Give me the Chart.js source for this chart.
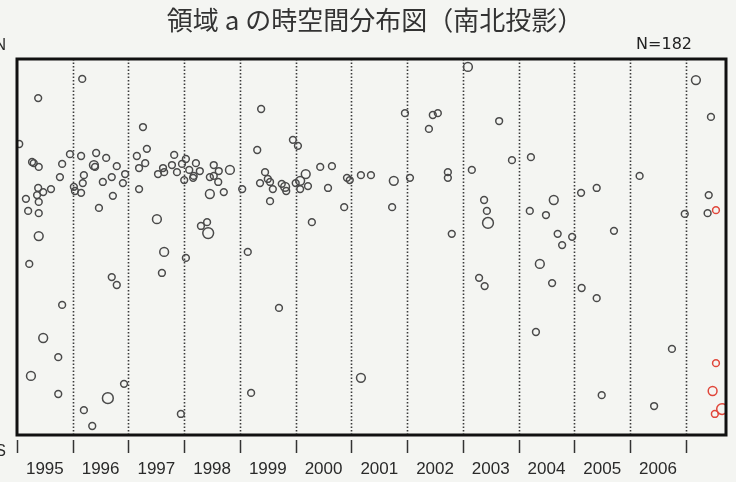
<!DOCTYPE html>
<html>
<head>
<meta charset="utf-8">
<script src="https://cdn.jsdelivr.net/npm/chart.js@4/dist/chart.umd.min.js"></script>
<style>
  body { margin: 0; background: #f4f5f2; }
  #wrap { width: 736px; height: 482px; }
</style>
</head>
<body>
<div id="wrap"><canvas id="stChart" width="736" height="482"></canvas></div>
<script>
// Title / labels
const chartTitle = '領域 a の時空間分布図（南北投影）';
const countLabel = 'N=182';
const yearLabels = ['1995', '1996', '1997', '1998', '1999', '2000', '2001', '2002', '2003', '2004', '2005', '2006'];
const yearBounds = [1995, 1996, 1997, 1998, 1999, 2000, 2001, 2002, 2003, 2004, 2005, 2006, 2007];

// Events up to 2007 (time in decimal years, south-north position 0 = S, 100 = N, size class 1-3)
const eventYears = [
  1995.04, 1995.38, 1995.27, 1995.30, 1995.39, 1995.81, 1995.95, 1995.77, 1995.61, 1995.38,
  1995.47, 1995.36, 1995.16, 1995.39, 1995.20, 1995.39, 1995.39, 1995.22, 1995.81, 1995.47,
  1995.74, 1995.25, 1995.74,
  1996.17, 1996.15, 1996.42, 1996.60, 1996.79, 1996.94, 1996.38, 1996.40, 1996.20, 1996.18,
  1996.54, 1996.70, 1996.90, 1996.02, 1996.04, 1996.15, 1996.72, 1996.47, 1996.70, 1996.79,
  1996.20, 1996.35, 1996.63, 1996.92,
  1997.26, 1997.33, 1997.15, 1997.30, 1997.19, 1997.19, 1997.53, 1997.64, 1997.62, 1997.82,
  1997.78, 1997.87, 1997.96, 1998.00, 1997.51, 1997.64, 1997.60, 1997.94,
  1998.03, 1998.09, 1998.21, 1998.28, 1998.17, 1998.16, 1998.53, 1998.62, 1998.46, 1998.53,
  1998.61, 1998.82, 1998.46, 1998.71, 1998.41, 1998.30, 1998.43, 1998.03,
  1999.04, 1999.31, 1999.38, 1999.14, 1999.45, 1999.36, 1999.50, 1999.54, 1999.59, 1999.54,
  1999.75, 1999.81, 1999.83, 1999.95, 2000.04, 2000.00, 1999.70, 1999.20,
  2000.08, 2000.18, 2000.08, 2000.22, 2000.44, 2000.65, 2000.58, 2000.29, 2000.87, 2000.92,
  2000.97,
  2001.17, 2001.35, 2001.76, 2001.73, 2001.96, 2001.17, 2002.05,
  2002.39, 2002.46, 2002.55, 2002.73, 2002.73, 2002.80, 2003.09,
  2003.16, 2003.38, 2003.43, 2003.45, 2003.29, 2003.39, 2003.65, 2003.88,
  2004.22, 2004.20, 2004.49, 2004.63, 2004.70, 2004.78, 2004.96, 2004.38, 2004.60, 2004.31,
  2005.12, 2005.40, 2005.13, 2005.40, 2005.71, 2005.49,
  2006.17, 2006.75, 2006.43, 2006.98,
  2007.18, 2007.45, 2007.41, 2007.39
];
const eventNS = [
  77.4, 89.6, 72.6, 72.3, 71.3, 72.1, 74.7, 68.6, 65.4, 65.7,
  64.6, 63.8, 62.8, 62.0, 59.6, 59.0, 52.9, 45.5, 34.6, 25.8,
  20.7, 15.7, 10.9,
  94.7, 74.2, 75.0, 73.7, 71.5, 69.4, 71.8, 71.3, 69.1, 67.0,
  67.3, 68.6, 67.0, 66.0, 64.9, 64.4, 63.6, 60.4, 42.0, 39.9,
  6.6, 2.4, 9.8, 13.6,
  81.9, 76.1, 74.2, 72.3, 71.0, 65.4, 69.4, 69.9, 71.0, 74.5,
  71.8, 69.9, 72.1, 67.8, 57.4, 48.7, 43.1, 5.6,
  73.4, 70.5, 72.3, 70.2, 68.9, 68.4, 71.8, 70.2, 68.6, 68.9,
  67.3, 70.5, 64.1, 64.6, 56.6, 55.6, 53.7, 47.1,
  65.4, 75.8, 86.7, 48.7, 69.9, 67.0, 68.1, 67.3, 65.4, 62.2,
  66.8, 66.0, 64.9, 78.5, 76.9, 67.0, 33.8, 11.2,
  67.6, 69.4, 65.4, 66.2, 71.3, 71.5, 65.7, 56.6, 60.6, 68.4,
  67.8,
  69.1, 69.1, 67.6, 60.6, 85.6, 15.2, 68.4,
  81.4, 85.1, 85.6, 69.9, 68.4, 53.5, 97.9,
  70.5, 62.5, 59.6, 56.4, 41.8, 39.6, 83.5, 73.1,
  73.9, 59.6, 58.5, 62.5, 53.5, 50.5, 52.7, 45.5, 40.4, 27.4,
  64.4, 65.7, 39.1, 36.4, 54.3, 10.6,
  68.9, 22.9, 7.7, 58.8,
  94.4, 84.6, 63.8, 59.0
];
const eventSize = [
  1, 1, 1, 1, 1, 1, 1, 1, 1, 1,
  1, 1, 1, 1, 1, 1, 2, 1, 1, 2,
  1, 2, 1,
  1, 1, 1, 1, 1, 1, 2, 1, 1, 1,
  1, 1, 1, 1, 1, 1, 1, 1, 1, 1,
  1, 1, 3, 1,
  1, 1, 1, 1, 1, 1, 1, 1, 1, 1,
  1, 1, 1, 1, 2, 2, 1, 1,
  1, 1, 1, 1, 1, 1, 1, 1, 1, 1,
  1, 2, 2, 1, 1, 1, 3, 1,
  1, 1, 1, 1, 1, 1, 1, 1, 1, 1,
  1, 2, 1, 1, 1, 1, 1, 1,
  2, 2, 1, 1, 1, 1, 1, 1, 1, 1,
  1,
  1, 1, 2, 1, 1, 2, 1,
  1, 1, 1, 1, 1, 1, 2,
  1, 1, 1, 3, 1, 1, 1, 1,
  1, 1, 1, 2, 1, 1, 1, 2, 1, 1,
  1, 1, 1, 1, 1, 1,
  1, 1, 1, 1,
  2, 1, 1, 1
];

// Most recent events (red)
const recentYears = [2007.54, 2007.54, 2007.48, 2007.52, 2007.65];
const recentNS = [59.8, 19.1, 11.7, 5.6, 6.9];
const recentSize = [1, 1, 2, 1, 3];

function toPoints(xs, ys) {
  return xs.map((x, i) => ({ x: x, y: ys[i] }));
}
function sizeToRadius(sizes) {
  return sizes.map(s => 2.4 + s * 1.0);
}

const framePlugin = {
  id: 'framePlugin',
  beforeDatasetsDraw(chart) {
    const ctx = chart.ctx;
    const area = chart.chartArea;
    const xs = chart.scales.x;
    ctx.save();
    // dotted year lines
    ctx.strokeStyle = '#3a3a3a';
    ctx.lineWidth = 1.6;
    ctx.setLineDash([1.6, 1.9]);
    yearBounds.slice(1).forEach(yr => {
      const px = Math.round(xs.getPixelForValue(yr)) + 0.5;
      ctx.beginPath();
      ctx.moveTo(px, area.top);
      ctx.lineTo(px, area.bottom);
      ctx.stroke();
    });
    ctx.restore();
  },
  afterDatasetsDraw(chart) {
    const ctx = chart.ctx;
    const area = chart.chartArea;
    const xs = chart.scales.x;
    ctx.save();
    // frame
    ctx.strokeStyle = '#111';
    ctx.lineWidth = 3;
    ctx.strokeRect(area.left, area.top, area.right - area.left, area.bottom - area.top);

    // year ticks under the frame
    ctx.strokeStyle = '#333';
    ctx.lineWidth = 1.5;
    yearBounds.forEach(yr => {
      const px = Math.round(xs.getPixelForValue(yr)) + 0.5;
      ctx.beginPath();
      ctx.moveTo(px, area.bottom + 5);
      ctx.lineTo(px, area.bottom + 18);
      ctx.stroke();
    });

    // year labels, centred in each year
    ctx.fillStyle = '#2a2a2a';
    ctx.font = '17px "Liberation Sans", Arial, sans-serif';
    ctx.textAlign = 'center';
    ctx.textBaseline = 'middle';
    yearLabels.forEach((lbl, i) => {
      ctx.fillText(lbl, xs.getPixelForValue(yearBounds[i] + 0.5), area.bottom + 34);
    });

    // N / S
    ctx.font = '16px "Liberation Sans", Arial, sans-serif';
    ctx.textAlign = 'right';
    ctx.fillText('N', 6, area.top - 13);
    ctx.fillText('S', 6, area.bottom + 17);

    // title
    ctx.fillStyle = '#333';
    ctx.font = '26px "Noto Sans CJK JP", sans-serif';
    ctx.textAlign = 'center';
    ctx.fillText(chartTitle, 375, 20);

    // count
    ctx.fillStyle = '#222';
    ctx.font = '16px "DejaVu Sans", sans-serif';
    ctx.textAlign = 'right';
    ctx.fillText(countLabel, 692, 45);
    ctx.restore();
  }
};

const ctx = document.getElementById('stChart');
new Chart(ctx, {
  type: 'scatter',
  data: {
    datasets: [
      {
        label: 'events',
        data: toPoints(eventYears, eventNS),
        pointRadius: sizeToRadius(eventSize),
        pointBorderColor: '#4a4a4a',
        pointBackgroundColor: 'rgba(0,0,0,0)',
        pointBorderWidth: 1.5
      },
      {
        label: 'recent',
        data: toPoints(recentYears, recentNS),
        pointRadius: sizeToRadius(recentSize),
        pointBorderColor: '#e0463a',
        pointBackgroundColor: 'rgba(0,0,0,0)',
        pointBorderWidth: 1.5
      }
    ]
  },
  options: {
    responsive: false,
    animation: false,
    layout: { padding: { left: 17, top: 59, right: 10, bottom: 47 } },
    plugins: {
      legend: { display: false },
      title: { display: false },
      tooltip: { enabled: false }
    },
    scales: {
      x: { type: 'linear', display: false, min: 1995, max: 2007.72 },
      y: { type: 'linear', display: false, min: 0, max: 100 }
    }
  },
  plugins: [framePlugin]
});
</script>
</body>
</html>
